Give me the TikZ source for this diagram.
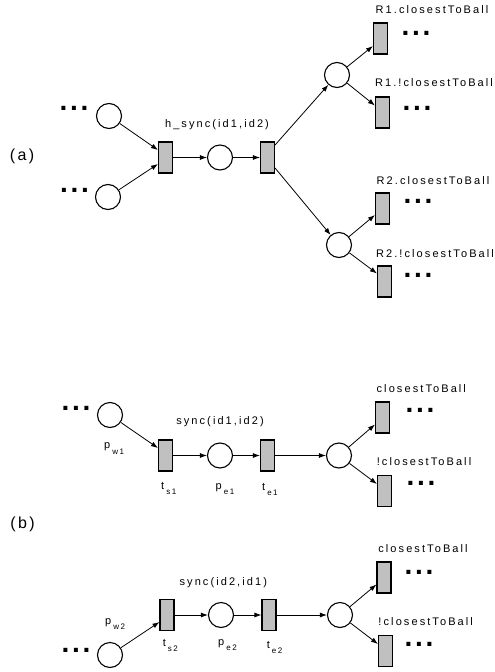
\documentclass[tikz,border=0pt]{standalone}
\usepackage{fontspec}
\setmainfont{Liberation Sans}[LetterSpace=19]
\newfontfamily\dotsfont{Liberation Sans}[LetterSpace=10]
\newfontfamily\tagfont{Liberation Sans}[LetterSpace=15]
\usetikzlibrary{arrows.meta}
\definecolor{transgray}{RGB}{192,192,192}

% label with a lowered index, e.g. p_{w1}
\newcommand\idxlabel[2]{#1\hspace{2pt}\raisebox{-5.5pt}{\fontsize{8}{8}\selectfont #2}}

\tikzset{
  place/.style={circle, draw, line width=1.1pt, minimum size=25pt, inner sep=0pt, fill=white},
  trans/.style={rectangle, draw, line width=1.1pt, fill=transgray,
                minimum width=14pt, minimum height=31pt, inner sep=0pt},
  arc/.style={-{Latex[length=7pt,width=5pt]}, line width=0.8pt},
  lab/.style={font=\fontsize{11}{13}\selectfont, inner sep=0pt, anchor=base},
  idx/.style={font=\fontsize{11}{13}\selectfont, inner sep=0pt, anchor=base west},
  parttag/.style={font=\tagfont\fontsize{16}{18}\selectfont, inner sep=0pt, anchor=base},
  more/.style={font=\dotsfont\bfseries\fontsize{28}{28}\selectfont, inner sep=0pt}
}

\begin{document}
\begin{tikzpicture}[x=1pt,y=-1pt]
\useasboundingbox[fill=white] (0,0) rectangle (495,672);

% ---------------- (a) ----------------
\node[parttag] (taga) at (22,160.7) {(a)};

\node[more] (ma1) at (74,108.5) {...};
\node[more] (ma2) at (74.5,190) {...};

\node[place] (a1) at (109,116) {};
\node[place] (a2) at (108,197) {};
\node[trans] (at1) at (165.5,157.5) {};
\node[place] (ap)  at (220,157.5) {};
\node[trans] (at2) at (267.5,157.5) {};
\node[place] (ar1) at (337,75) {};
\node[place] (ar2) at (339,245) {};
\node[trans] (ar1y) at (380.5,38.5) {};
\node[trans] (ar1n) at (382.5,112.5) {};
\node[trans] (ar2y) at (382.5,208.5) {};
\node[trans] (ar2n) at (384.5,281.5) {};

\node[lab] (hs) at (217,127.3) {h\_sync(id1,id2)};
\node[lab] (l1y) at (432,13.3) {R1.closestToBall};
\node[lab] (l1n) at (434,86.7) {R1.!closestToBall};
\node[lab] (l2y) at (433,184.3) {R2.closestToBall};
\node[lab] (l2n) at (435,257.3) {R2.!closestToBall};

\node[more] (ma3) at (416,33.5) {...};
\node[more] (ma4) at (417,108.5) {...};
\node[more] (ma5) at (418,201.5) {...};
\node[more] (ma6) at (418,275.5) {...};

\draw[arc] (a1) -- ([yshift=7.5pt]at1.west);
\draw[arc] (a2) -- ([yshift=-6.5pt]at1.west);
\draw[arc] (at1.east) -- (ap);
\draw[arc] (ap) -- (at2.west);
\draw[arc] ([yshift=12.5pt]at2.east) -- (ar1);
\draw[arc] ([yshift=-10.5pt]at2.east) -- (ar2);
\draw[arc] (ar1) -- ([yshift=-7.5pt]ar1y.west);
\draw[arc] (ar1) -- ([yshift=7pt]ar1n.west);
\draw[arc] (ar2) -- ([yshift=-6.5pt]ar2y.west);
\draw[arc] (ar2) -- ([yshift=8pt]ar2n.west);

% ---------------- (b) ----------------
\node[parttag] (tagb) at (22.5,528.7) {(b)};

% first robot
\node[more] (mb1) at (76,408.7) {...};
\node[place] (pw1) at (110,415) {};
\node[trans] (ts1) at (165.5,455.5) {};
\node[place] (pe1) at (220,455.5) {};
\node[trans] (te1) at (267.5,455.5) {};
\node[place] (br1) at (339,455.5) {};
\node[trans] (b1y) at (382.5,417.5) {};
\node[trans] (b1n) at (384.5,491) {};

\node[lab] (s1) at (220,424) {sync(id1,id2)};
\node[lab] (c1y) at (421.3,392.7) {closestToBall};
\node[lab] (c1n) at (424,465.7) {!closestToBall};
\node[more] (mb2) at (420,410) {...};
\node[more] (mb3) at (421,483.5) {...};

\node[idx] (lpw1) at (104,448.5) {\idxlabel{p}{w1}};
\node[idx] (lts1) at (161,489) {\idxlabel{t}{s1}};
\node[idx] (lpe1) at (215.5,489) {\idxlabel{p}{e1}};
\node[idx] (lte1) at (262,490) {\idxlabel{t}{e1}};

\draw[arc] (pw1) -- ([yshift=7.5pt]ts1.west);
\draw[arc] (ts1.east) -- (pe1);
\draw[arc] (pe1) -- (te1.west);
\draw[arc] (te1.east) -- (br1);
\draw[arc] (br1) -- ([yshift=-7pt]b1y.west);
\draw[arc] (br1) -- ([yshift=7pt]b1n.west);

% second robot
\node[more] (mb4) at (76,650) {...};
\node[place] (pw2) at (110,655) {};
\node[trans] (ts2) at (167,615) {};
\node[place] (pe2) at (221,615) {};
\node[trans] (te2) at (269,615) {};
\node[place] (br2) at (340,615) {};
\node[trans] (b2y) at (384,577.5) {};
\node[trans] (b2n) at (385.5,651) {};

\node[lab] (s2) at (223.3,585) {sync(id2,id1)};
\node[lab] (c2y) at (423,552.7) {closestToBall};
\node[lab] (c2n) at (425.7,625.7) {!closestToBall};
\node[more] (mb5) at (419,572.5) {...};
\node[more] (mb6) at (419,644.5) {...};

\node[idx] (lpw2) at (105,624) {\idxlabel{p}{w2}};
\node[idx] (lts2) at (162.7,646) {\idxlabel{t}{s2}};
\node[idx] (lpe2) at (218,645) {\idxlabel{p}{e2}};
\node[idx] (lte2) at (266.7,648) {\idxlabel{t}{e2}};

\draw[arc] (pw2) -- ([yshift=-7pt]ts2.west);
\draw[arc] (ts2.east) -- (pe2);
\draw[arc] (pe2) -- (te2.west);
\draw[arc] (te2.east) -- (br2);
\draw[arc] (br2) -- ([yshift=-7pt]b2y.west);
\draw[arc] (br2) -- ([yshift=7pt]b2n.west);
\end{tikzpicture}
\end{document}
